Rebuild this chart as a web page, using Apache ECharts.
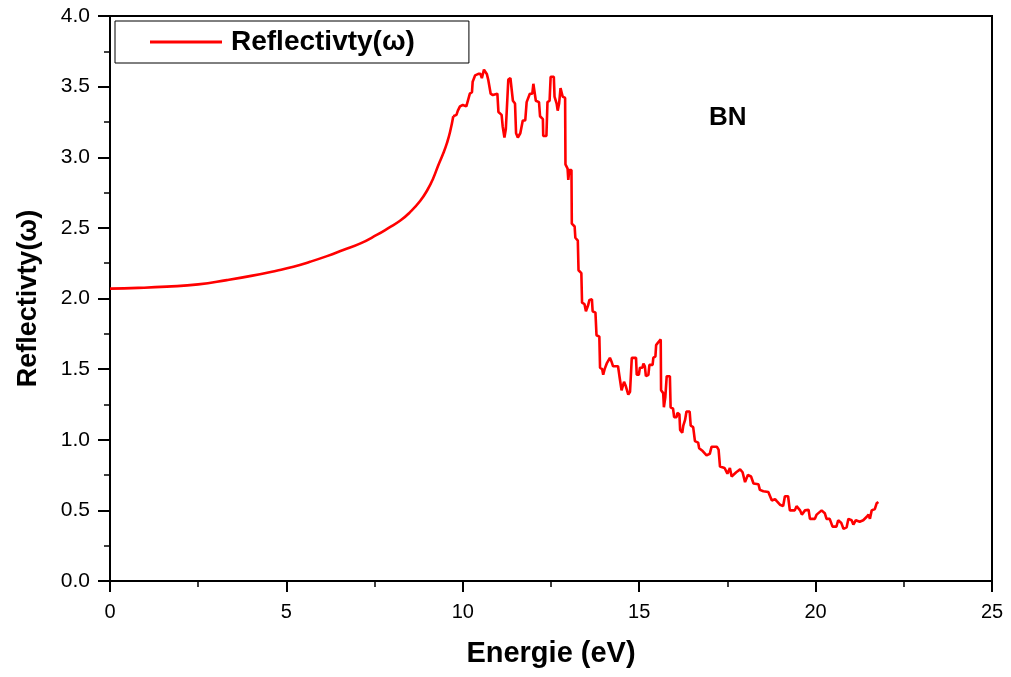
<!DOCTYPE html>
<html>
<head>
<meta charset="utf-8">
<script src="https://cdn.jsdelivr.net/npm/echarts@6/dist/echarts.min.js"></script>
<style>
  html, body { margin: 0; padding: 0; background: #fff; }
  #chart { width: 1011px; height: 677px; }
</style>
</head>
<body>
<div id="chart"></div>
<script>
// Photon energy (eV) and reflectivity of BN.
// The first part (below the absorption edge) is a smooth curve,
// the rest is the stepped, noisy region.
const energySmooth = [
  0.00, 0.80, 1.61, 2.50, 3.31, 4.00, 4.72, 5.20, 5.67, 6.15, 6.61, 7.10, 7.56, 7.90, 8.22, 8.50,
  8.79, 9.00, 9.16, 9.30, 9.45, 9.55, 9.64, 9.73
];
const reflectivitySmooth = [
  2.07, 2.075, 2.084, 2.10, 2.13, 2.16, 2.197, 2.225, 2.26, 2.30, 2.343, 2.39, 2.45, 2.50, 2.55, 2.61,
  2.69, 2.77, 2.85, 2.94, 3.03, 3.10, 3.18, 3.29
];
const energyStep = [
  9.73, 9.82, 9.86, 9.92, 10.00, 10.10, 10.15, 10.20, 10.26,
  10.28, 10.35, 10.44, 10.50, 10.54, 10.58, 10.60, 10.65, 10.68, 10.72, 10.79, 10.85, 10.98, 11.01, 11.10, 11.13,
  11.18, 11.20, 11.22, 11.27, 11.29, 11.35, 11.39, 11.42, 11.48, 11.51, 11.56, 11.60, 11.63, 11.70, 11.77, 11.81,
  11.86, 11.90, 11.97, 12.00, 12.04, 12.07, 12.16, 12.19, 12.27, 12.28, 12.37, 12.40, 12.46, 12.49, 12.58, 12.60,
  12.66, 12.69, 12.73, 12.77, 12.83, 12.90, 12.91, 12.97, 12.99, 13.02, 13.08, 13.09, 13.17, 13.19, 13.26, 13.28,
  13.36, 13.38, 13.45, 13.49, 13.55, 13.59, 13.66, 13.68, 13.76, 13.79, 13.87, 13.89, 13.95, 13.98, 14.02, 14.08,
  14.17, 14.22, 14.26, 14.32, 14.36, 14.40, 14.44, 14.49, 14.50, 14.57, 14.62, 14.69, 14.74, 14.79, 14.91, 14.93,
  14.99, 15.02, 15.09, 15.12, 15.16, 15.19, 15.26, 15.29, 15.38, 15.40, 15.46, 15.48, 15.54, 15.61, 15.62, 15.68,
  15.70, 15.74, 15.78, 15.87, 15.89, 15.96, 15.99, 16.06, 16.08, 16.14, 16.16, 16.22, 16.25, 16.30, 16.34, 16.43,
  16.46, 16.53, 16.58, 16.67, 16.70, 16.80, 16.91, 17.00, 17.05, 17.20, 17.25, 17.29, 17.42, 17.50, 17.57, 17.62,
  17.75, 17.86, 17.93, 18.00, 18.08, 18.17, 18.24, 18.38, 18.42, 18.52, 18.57, 18.66, 18.76, 18.85, 18.90, 18.99,
  19.08, 19.13, 19.22, 19.27, 19.41, 19.46, 19.56, 19.61, 19.70, 19.80, 19.84, 19.98, 20.03, 20.17, 20.26, 20.31,
  20.40, 20.48, 20.59, 20.64, 20.73, 20.79, 20.88, 20.93, 21.02, 21.07, 21.14, 21.25, 21.35, 21.45, 21.50, 21.54,
  21.59, 21.68, 21.73, 21.78
];
const reflectivityStep = [
  3.29, 3.30, 3.33, 3.36, 3.37, 3.36, 3.37, 3.45, 3.46,
  3.535, 3.58, 3.59, 3.59, 3.56, 3.56, 3.62, 3.61, 3.59, 3.55, 3.45, 3.44, 3.45, 3.32, 3.30, 3.22,
  3.14, 3.13, 3.20, 3.21, 3.55, 3.56, 3.57, 3.40, 3.38, 3.17, 3.14, 3.13, 3.17, 3.26, 3.26, 3.39,
  3.39, 3.45, 3.45, 3.52, 3.51, 3.40, 3.39, 3.29, 3.27, 3.15, 3.15, 3.39, 3.40, 3.57, 3.57, 3.43,
  3.38, 3.33, 3.38, 3.49, 3.43, 3.42, 2.95, 2.92, 2.84, 2.91, 2.91, 2.53, 2.51, 2.43, 2.41, 2.20,
  2.18, 1.97, 1.96, 1.91, 1.95, 1.99, 1.995, 1.91, 1.90, 1.74, 1.73, 1.51, 1.50, 1.46, 1.50, 1.54,
  1.58, 1.55, 1.52, 1.52, 1.53, 1.52, 1.45, 1.44, 1.35, 1.41, 1.38, 1.32, 1.34, 1.58, 1.58, 1.46,
  1.46, 1.51, 1.51, 1.54, 1.52, 1.45, 1.46, 1.53, 1.53, 1.58, 1.59, 1.67, 1.69, 1.71, 1.35, 1.33,
  1.23, 1.30, 1.45, 1.45, 1.23, 1.22, 1.16, 1.16, 1.19, 1.18, 1.07, 1.05, 1.10, 1.14, 1.20, 1.20,
  1.10, 1.09, 0.99, 0.98, 0.94, 0.92, 0.89, 0.90, 0.95, 0.95, 0.93, 0.81, 0.80, 0.76, 0.80, 0.74,
  0.77, 0.79, 0.77, 0.70, 0.75, 0.74, 0.69, 0.685, 0.645, 0.635, 0.64, 0.63, 0.57, 0.58, 0.565, 0.54,
  0.53, 0.60, 0.60, 0.50, 0.50, 0.53, 0.50, 0.47, 0.50, 0.505, 0.44, 0.44, 0.47, 0.50, 0.48, 0.44,
  0.44, 0.385, 0.385, 0.43, 0.41, 0.37, 0.38, 0.44, 0.43, 0.40, 0.43, 0.42, 0.43, 0.455, 0.47, 0.44,
  0.50, 0.51, 0.55, 0.56
];

const seriesName = 'Reflectivty(\u03c9)';
const xTitle = 'Energie (eV)';
const yTitle = 'Reflectivty(\u03c9)';
const sampleLabel = 'BN';

const FONT = '"Liberation Sans", Arial, sans-serif';
const RED = '#ff0000';
const smoothPoints = energySmooth.map((e, i) => [e, reflectivitySmooth[i]]);
const stepPoints = energyStep.map((e, i) => [e, reflectivityStep[i]]);

const lineSeries = (data, smooth) => ({
  name: seriesName,
  type: 'line',
  data: data,
  smooth: smooth,
  showSymbol: false,
  symbol: 'none',
  lineStyle: { color: RED, width: 2.6 },
  itemStyle: { color: RED }
});

const chart = echarts.init(document.getElementById('chart'), null, { renderer: 'canvas' });
chart.setOption({
  animation: false,
  backgroundColor: '#ffffff',
  textStyle: { fontFamily: FONT },
  title: {
    text: sampleLabel,
    left: 704,
    top: 100,
    textStyle: { fontFamily: FONT, fontWeight: 'bold', fontSize: 26, color: '#000' }
  },
  legend: {
    left: 115,
    top: 21,
    orient: 'horizontal',
    backgroundColor: '#fff',
    borderColor: '#000',
    borderWidth: 1,
    borderRadius: 0,
    padding: [7, 54, 7, 35],
    itemWidth: 72,
    itemHeight: 3,
    itemGap: 10,
    textStyle: { fontFamily: FONT, fontWeight: 'bold', fontSize: 28, color: '#000', padding: [0, 0, 0, 4] },
    data: [{ name: seriesName, icon: 'rect', itemStyle: { color: RED } }]
  },
  grid: {
    left: 110, right: 19, top: 16, bottom: 96,
    show: true, borderColor: '#000', borderWidth: 2, backgroundColor: 'transparent'
  },
  xAxis: {
    type: 'value',
    min: 0, max: 25, interval: 5,
    name: xTitle,
    nameLocation: 'middle',
    nameGap: 58,
    nameTextStyle: { fontFamily: FONT, fontWeight: 'bold', fontSize: 29, color: '#000' },
    axisLine: { show: true, onZero: false, lineStyle: { color: '#000', width: 2 } },
    axisTick: { show: true, inside: false, length: 11, lineStyle: { color: '#000', width: 2 } },
    minorTick: { show: true, splitNumber: 2, length: 6, lineStyle: { color: '#000', width: 1.5 } },
    axisLabel: { margin: 21, fontFamily: FONT, fontSize: 20, color: '#000' },
    splitLine: { show: false }
  },
  yAxis: {
    type: 'value',
    min: 0, max: 4, interval: 0.5,
    name: yTitle,
    nameLocation: 'middle',
    nameGap: 68,
    nameRotate: 90,
    nameTextStyle: { fontFamily: FONT, fontWeight: 'bold', fontSize: 27, color: '#000' },
    axisLine: { show: true, onZero: false, lineStyle: { color: '#000', width: 2 } },
    axisTick: { show: true, inside: false, length: 12, lineStyle: { color: '#000', width: 2 } },
    minorTick: { show: true, splitNumber: 2, length: 6, lineStyle: { color: '#000', width: 1.5 } },
    axisLabel: {
      margin: 20, fontFamily: FONT, fontSize: 21, color: '#000',
      formatter: v => v.toFixed(1)
    },
    splitLine: { show: false }
  },
  series: [
    lineSeries(smoothPoints, 0.5),
    lineSeries(stepPoints, false)
  ]
});
</script>
</body>
</html>
